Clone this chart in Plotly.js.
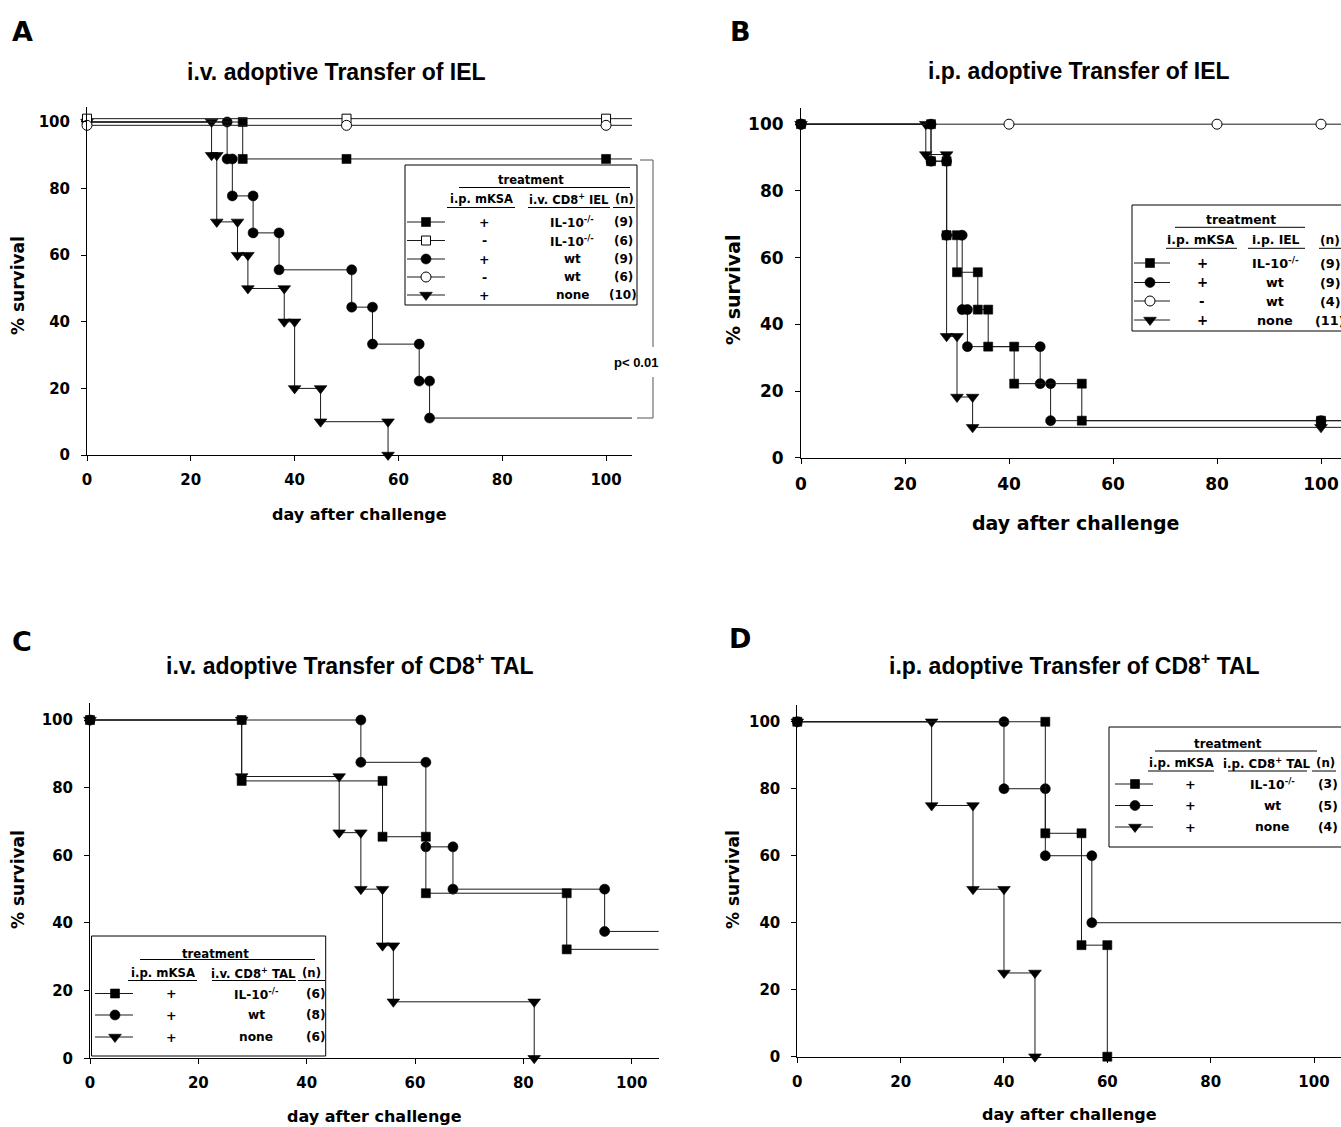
<!DOCTYPE html>
<html><head><meta charset="utf-8">
<script src="https://cdn.plot.ly/plotly-3.0.1.min.js"></script>
<style>html,body{margin:0;padding:0;background:#fff;}#chart{width:1341px;height:1127px;}</style>
</head><body><div id="chart"></div>
<script>
// ---------- DATA (event day, % survival after that day) ----------
// Panel A: i.v. adoptive transfer of IEL
const A_il10_plus_t  = [0, 30, 50, 100];
const A_il10_plus_s  = [100, 88.9, 88.9, 88.9];
const A_il10_minus_t = [0, 50, 100];
const A_il10_minus_s = [101, 101, 101];
const A_wt_plus_t    = [0, 27, 28, 32, 37, 51, 55, 64, 66];
const A_wt_plus_s    = [100, 88.9, 77.8, 66.7, 55.6, 44.4, 33.3, 22.2, 11.1];
const A_wt_minus_t   = [0, 50, 100];
const A_wt_minus_s   = [99, 99, 99];
const A_none_t       = [0, 24, 25, 29, 31, 38, 40, 45, 58];
const A_none_s       = [100, 90, 70, 60, 50, 40, 20, 10, 0];
// Panel B: i.p. adoptive transfer of IEL
const B_il10_plus_t  = [0, 25, 28, 30, 34, 36, 41, 54, 100];
const B_il10_plus_s  = [100, 88.9, 66.7, 55.6, 44.4, 33.3, 22.2, 11.1, 11.1];
const B_wt_plus_t    = [0, 25, 28, 31, 32, 46, 48, 100];
const B_wt_plus_s    = [100, 88.9, 66.7, 44.4, 33.3, 22.2, 11.1, 11.1];
const B_wt_minus_t   = [0, 40, 80, 100];
const B_wt_minus_s   = [100, 100, 100, 100];
const B_none_t       = [0, 24, 28, 30, 33, 100];
const B_none_s       = [100, 90.9, 36.4, 18.2, 9.1, 9.1];
// Panel C: i.v. adoptive transfer of CD8+ TAL
const C_il10_t = [0, 28, 54, 62, 88];
const C_il10_s = [100, 82, 65.5, 48.8, 32.2];
const C_wt_t   = [0, 50, 62, 67, 95];
const C_wt_s   = [100, 87.5, 62.5, 50, 37.5];
const C_none_t = [0, 28, 46, 50, 54, 56, 82];
const C_none_s = [100, 83.3, 66.7, 50, 33.3, 16.7, 0];
// Panel D: i.p. adoptive transfer of CD8+ TAL
const D_il10_t = [0, 48, 55, 60];
const D_il10_s = [100, 66.7, 33.3, 0];
const D_wt_t   = [0, 40, 48, 57];
const D_wt_s   = [100, 80, 60, 40];
const D_none_t = [0, 26, 34, 40, 46];
const D_none_s = [100, 75, 50, 25, 0];

// Tick labels
const tickVals = [0, 20, 40, 60, 80, 100];
const tickText = ['0', '20', '40', '60', '80', '100'];

// Legend contents
const A_leg_sign  = ['+', '-', '+', '-', '+'];
const A_leg_label = ['IL-10<sup>-/-</sup>', 'IL-10<sup>-/-</sup>', 'wt', 'wt', 'none'];
const A_leg_n     = ['(9)', '(6)', '(9)', '(6)', '(10)'];
const B_leg_sign  = ['+', '+', '-', '+'];
const B_leg_label = ['IL-10<sup>-/-</sup>', 'wt', 'wt', 'none'];
const B_leg_n     = ['(9)', '(9)', '(4)', '(11)'];
const C_leg_sign  = ['+', '+', '+'];
const C_leg_label = ['IL-10<sup>-/-</sup>', 'wt', 'none'];
const C_leg_n     = ['(6)', '(8)', '(6)'];
const D_leg_sign  = ['+', '+', '+'];
const D_leg_label = ['IL-10<sup>-/-</sup>', 'wt', 'none'];
const D_leg_n     = ['(3)', '(5)', '(4)'];

// ---------- BUILD ----------
const W = 1341, H = 1127;
const fx = p => p / W, fy = p => 1 - p / H;
const SYM = {sq: 'square', ci: 'circle', tr: 'triangle-down'};
const SZ = {sq: 9, ci: 10, tr: 11};
const LINE = '#1a1a1a';

function km(t, s, xEnd, sz) {
  const x = [], y = [], size = [];
  for (let i = 0; i < t.length; i++) {
    if (i > 0 && s[i] !== s[i - 1]) { x.push(t[i]); y.push(s[i - 1]); size.push(sz); }
    x.push(t[i]); y.push(s[i]); size.push(sz);
  }
  const last = s[s.length - 1];
  if (last > 0 && xEnd > t[t.length - 1]) { x.push(xEnd); y.push(last); size.push(0); }
  return {x, y, size};
}

function mk(sym, sizes, open) {
  return {symbol: SYM[sym], size: sizes, opacity: 1, color: open ? '#ffffff' : '#000000',
          line: {color: '#000000', width: open ? 1 : 0.6}};
}

const traces = [];
function addSeries(t, s, sym, open, ax, xEnd) {
  const k = km(t, s, xEnd, SZ[sym]);
  traces.push({
    type: 'scatter', mode: 'lines+markers', x: k.x, y: k.y,
    xaxis: 'x' + ax, yaxis: 'y' + ax, cliponaxis: false, opacity: 1,
    line: {color: LINE, width: 1},
    marker: mk(sym, k.size, open),
    showlegend: false, hoverinfo: 'skip'
  });
}
const xEndA = 105, xEndB = 540 / 5.2, xEndC = 105, xEndD = (1341 - 797.3) / 5.167;
// A
addSeries(A_none_t, A_none_s, 'tr', false, '', xEndA);
addSeries(A_wt_plus_t, A_wt_plus_s, 'ci', false, '', xEndA);
addSeries(A_il10_plus_t, A_il10_plus_s, 'sq', false, '', xEndA);
addSeries(A_il10_minus_t, A_il10_minus_s, 'sq', true, '', xEndA);
addSeries(A_wt_minus_t, A_wt_minus_s, 'ci', true, '', xEndA);
// B
addSeries(B_wt_minus_t, B_wt_minus_s, 'ci', true, '2', xEndB);
addSeries(B_none_t, B_none_s, 'tr', false, '2', xEndB);
addSeries(B_wt_plus_t, B_wt_plus_s, 'ci', false, '2', xEndB);
addSeries(B_il10_plus_t, B_il10_plus_s, 'sq', false, '2', xEndB);
// C
addSeries(C_none_t, C_none_s, 'tr', false, '3', xEndC);
addSeries(C_wt_t, C_wt_s, 'ci', false, '3', xEndC);
addSeries(C_il10_t, C_il10_s, 'sq', false, '3', xEndC);
// D
addSeries(D_none_t, D_none_s, 'tr', false, '4', xEndD);
addSeries(D_wt_t, D_wt_s, 'ci', false, '4', xEndD);
addSeries(D_il10_t, D_il10_s, 'sq', false, '4', xEndD);

const DV = 'DejaVu Sans';
const TICKF = (sz) => ({family: DV, size: sz, color: 'black', weight: 'bold'});
function axis(domain, range, anchor, fs, isY) {
  return {domain, range, anchor, showline: true, linecolor: 'black', linewidth: 1,
    ticks: 'outside', ticklen: 5, tickcolor: 'black', tickwidth: 1,
    tickvals: tickVals, ticktext: tickText, tickfont: TICKF(fs),
    ticklabelstandoff: isY ? 8 : 6,
    showgrid: false, zeroline: false, fixedrange: true};
}

const layout = {
  width: W, height: H, margin: {l: 0, r: 0, t: 0, b: 0},
  paper_bgcolor: 'white', plot_bgcolor: 'rgba(0,0,0,0)', showlegend: false,
  xaxis:  axis([fx(87), fx(632)], [0, 105], 'y', 15, false),
  yaxis:  axis([fy(455), fy(107)], [0, 104.5], 'x', 15, true),
  xaxis2: axis([fx(801), 1], [0, xEndB], 'y2', 17, false),
  yaxis2: axis([fy(457.7), fy(107.5)], [0, 105], 'x2', 17, true),
  xaxis3: axis([fx(90), fx(658.8)], [0, 105], 'y3', 15, false),
  yaxis3: axis([fy(1058.3), fy(703.1)], [0, 105], 'x3', 15, true),
  xaxis4: axis([fx(797.3), 1], [0, xEndD], 'y4', 15, false),
  yaxis4: axis([fy(1056.7), fy(705)], [0, 105], 'x4', 15, true),
  xaxis5: {domain: [0, 1], range: [0, W], anchor: 'y5', visible: false, fixedrange: true},
  yaxis5: {domain: [0, 1], range: [H, 0], anchor: 'x5', visible: false, fixedrange: true},
  shapes: [], annotations: []
};

const ARIAL = 'Liberation Sans, Arial, sans-serif';
function ann(x, y, text, size, family, extra) {
  layout.annotations.push(Object.assign({xref: 'x5', yref: 'y5', x, y, text, showarrow: false,
    xanchor: 'center', yanchor: 'middle',
    font: {family: family || DV, size, color: 'black', weight: 'bold'}}, extra || {}));
}
function seg(x0, y0, x1, y1, color, w) {
  layout.shapes.push({type: 'line', xref: 'x5', yref: 'y5', x0, y0, x1, y1,
    line: {color: color || 'black', width: w || 1}});
}
function box(x0, y0, x1, y1) {
  layout.shapes.push({type: 'rect', xref: 'x5', yref: 'y5', x0, y0, x1, y1,
    line: {color: 'black', width: 1}, fillcolor: 'rgba(0,0,0,0)'});
}
function legSym(x0, x1, xm, y, sym, open) {
  traces.push({type: 'scatter', mode: 'lines+markers', x: [x0, xm, x1], y: [y, y, y],
    xaxis: 'x5', yaxis: 'y5', cliponaxis: false, line: {color: LINE, width: 1},
    marker: mk(sym, [0, SZ[sym], 0], open),
    showlegend: false, hoverinfo: 'skip'});
}

// Panel letters & titles
ann(22, 31, 'A', 27); ann(740, 31, 'B', 27);
ann(22, 641, 'C', 27); ann(740, 638, 'D', 27);
ann(336, 72, 'i.v. adoptive Transfer of IEL', 23, ARIAL);
ann(1079, 71, 'i.p. adoptive Transfer of IEL', 23, ARIAL);
ann(350, 664, 'i.v. adoptive Transfer of CD8<sup>+</sup> TAL', 23, ARIAL);
ann(1074, 664, 'i.p. adoptive Transfer of CD8<sup>+</sup> TAL', 23, ARIAL);
// Axis titles
ann(359, 514, 'day after challenge', 16);
ann(18, 286, '% survival', 17, DV, {textangle: -90});
ann(1075, 523, 'day after challenge', 19);
ann(733, 290, '% survival', 19, DV, {textangle: -90});
ann(374, 1116, 'day after challenge', 16);
ann(18, 880, '% survival', 17, DV, {textangle: -90});
ann(1069, 1114, 'day after challenge', 16);
ann(733, 880, '% survival', 17, DV, {textangle: -90});

// p-value bracket (panel A)
seg(640, 160, 653, 160, '#555'); seg(653, 160, 653, 347, '#555');
seg(653, 377, 653, 418, '#555'); seg(637, 418, 653, 418, '#555');
ann(636, 362, 'p&lt; 0.01', 13, ARIAL);

// Legend builder
function legend(cfg) {
  box(cfg.box[0], cfg.box[1], cfg.box[2], cfg.box[3]);
  ann(cfg.tr[0], cfg.tr[1], 'treatment', cfg.fs);
  seg(cfg.trLine[0], cfg.trLine[2], cfg.trLine[1], cfg.trLine[2]);
  cfg.heads.forEach(h => { ann(h.x, cfg.headY, h.t, cfg.fs); seg(h.u0, cfg.headU, h.u1, cfg.headU); });
  cfg.rows.forEach((y, i) => {
    legSym(cfg.symX[0], cfg.symX[1], cfg.symX[2], y, cfg.syms[i][0], cfg.syms[i][1]);
    ann(cfg.signX, y, cfg.sign[i], cfg.fs + 1);
    ann(cfg.labX, y, cfg.label[i], cfg.fs + 0.5);
    ann(cfg.nX, y, cfg.n[i], cfg.fs + 0.5);
  });
}
legend({box: [405, 165, 637, 305], fs: 11.5, tr: [531, 180], trLine: [459, 630, 187.5], headY: 199, headU: 207.5,
  heads: [{x: 481, t: 'i.p. mKSA', u0: 447, u1: 515}, {x: 569, t: 'i.v. CD8<sup>+</sup> IEL', u0: 528, u1: 610},
          {x: 624, t: '(n)', u0: 613, u1: 635}],
  rows: [222, 240.5, 259, 277, 295], symX: [407, 445, 426],
  syms: [['sq', false], ['sq', true], ['ci', false], ['ci', true], ['tr', false]],
  signX: 484, labX: 572, nX: 623, sign: A_leg_sign, label: A_leg_label, n: A_leg_n});
legend({box: [1132, 205, 1360, 331], fs: 12.3, tr: [1241, 220], trLine: [1175, 1305, 227.3], headY: 239.5, headU: 248.3,
  heads: [{x: 1201, t: 'i.p. mKSA', u0: 1166, u1: 1237}, {x: 1276, t: 'i.p. IEL', u0: 1248, u1: 1305},
          {x: 1330, t: '(n)', u0: 1319, u1: 1341}],
  rows: [263, 282.5, 301, 320], symX: [1134, 1170, 1150],
  syms: [['sq', false], ['ci', false], ['ci', true], ['tr', false]],
  signX: 1202, labX: 1275, nX: 1330, sign: B_leg_sign, label: B_leg_label, n: B_leg_n});
legend({box: [91.5, 936, 325.7, 1056], fs: 11.7, tr: [215, 954], trLine: [140, 315, 959.5], headY: 972.5, headU: 980.5,
  heads: [{x: 162.5, t: 'i.p. mKSA', u0: 128, u1: 197}, {x: 253.5, t: 'i.v. CD8<sup>+</sup> TAL', u0: 212, u1: 296},
          {x: 311.5, t: '(n)', u0: 298, u1: 325}],
  rows: [993.5, 1015, 1037], symX: [95, 133, 115],
  syms: [['sq', false], ['ci', false], ['tr', false]],
  signX: 171, labX: 256, nX: 316, sign: C_leg_sign, label: C_leg_label, n: C_leg_n});
legend({box: [1109, 727, 1360, 847], fs: 11.8, tr: [1228, 744], trLine: [1155, 1317, 751], headY: 763, headU: 771,
  heads: [{x: 1181, t: 'i.p. mKSA', u0: 1148, u1: 1214}, {x: 1267, t: 'i.p. CD8<sup>+</sup> TAL', u0: 1228, u1: 1307},
          {x: 1325, t: '(n)', u0: 1312, u1: 1336}],
  rows: [784, 805.5, 827], symX: [1115, 1153, 1135],
  syms: [['sq', false], ['ci', false], ['tr', false]],
  signX: 1190, labX: 1272, nX: 1328, sign: D_leg_sign, label: D_leg_label, n: D_leg_n});

Plotly.newPlot('chart', traces, layout, {staticPlot: true, displayModeBar: false});
</script></body></html>
